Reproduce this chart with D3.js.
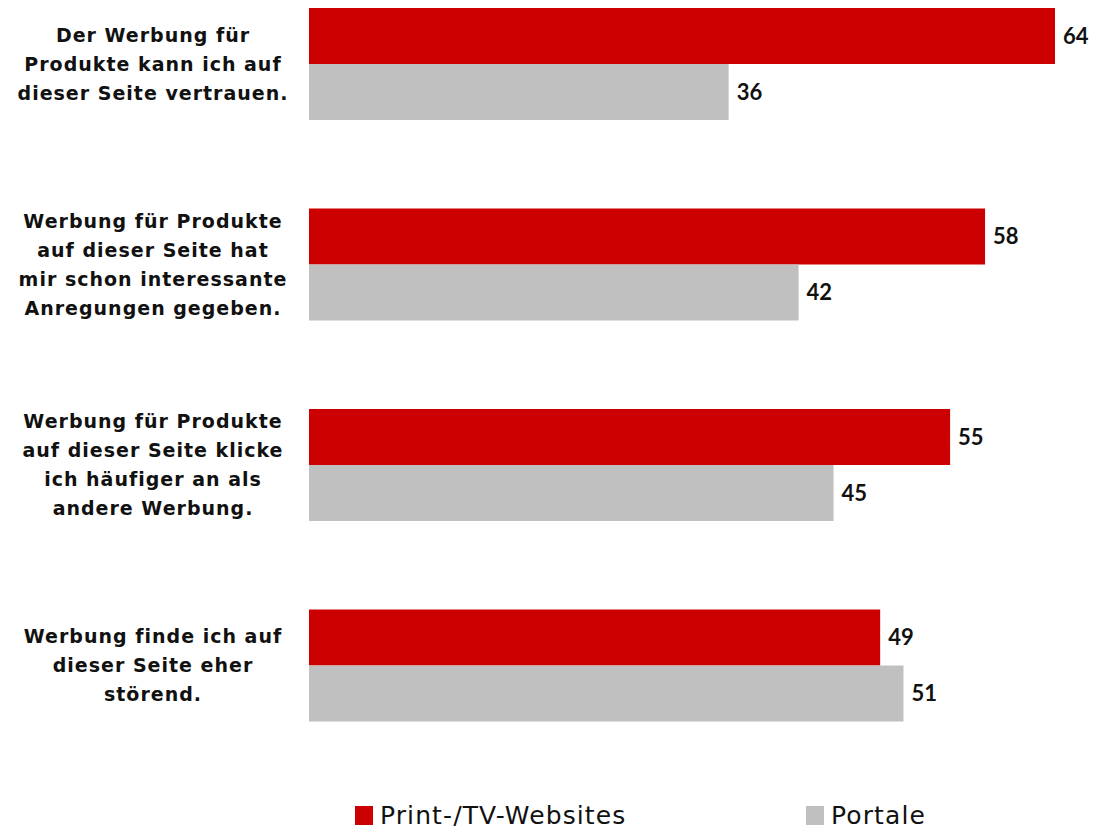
<!DOCTYPE html>
<html>
<head>
<meta charset="utf-8">
<script src="https://cdn.jsdelivr.net/npm/d3@7"></script>
<style>
  html, body { margin: 0; padding: 0; background: #fff; overflow: hidden; }
  svg { display: block; }
</style>
</head>
<body>
<svg id="chart" width="1095" height="826"></svg>
<script>
// Statements (each split into display lines)
const categories = [
  ["Der Werbung für", "Produkte kann ich auf", "dieser Seite vertrauen."],
  ["Werbung für Produkte", "auf dieser Seite hat", "mir schon interessante", "Anregungen gegeben."],
  ["Werbung für Produkte", "auf dieser Seite klicke", "ich häufiger an als", "andere Werbung."],
  ["Werbung finde ich auf", "dieser Seite eher", "störend."]
];
const seriesNames = ["Print-/TV-Websites", "Portale"];
const printTv = [64, 58, 55, 49];
const portale = [36, 42, 45, 51];
const colors = ["#CC0000", "#C0C0C0"];

const svg = d3.select("#chart");
const labelFont = "'DejaVu Sans', Verdana, sans-serif";
const valueFont = "Lato, 'Open Sans', sans-serif";

const keys = categories.map((c, i) => "c" + i);
const rows = keys.map((k, i) => ({ key: k, lines: categories[i], values: [printTv[i], portale[i]] }));

const x = d3.scaleLinear().domain([0, 64]).range([309, 1055]);
const y = d3.scaleBand().domain(keys).range([8, 721.5]).paddingInner(0.4414).paddingOuter(0);
const ySub = d3.scaleBand().domain(seriesNames).range([0, y.bandwidth()]);

const groups = svg.selectAll("g.group").data(rows).join("g")
  .attr("class", "group")
  .attr("transform", d => `translate(0,${y(d.key)})`);

groups.selectAll("rect").data(d => d.values.map((v, j) => ({ v, s: seriesNames[j], j }))).join("rect")
  .attr("x", x(0))
  .attr("y", d => ySub(d.s))
  .attr("width", d => x(d.v) - x(0))
  .attr("height", ySub.bandwidth())
  .attr("fill", d => colors[d.j]);

groups.selectAll("text.value").data(d => d.values.map((v, j) => ({ v, s: seriesNames[j] }))).join("text")
  .attr("class", "value")
  .attr("x", d => x(d.v) + 8)
  .attr("y", d => ySub(d.s) + ySub.bandwidth() / 2)
  .attr("dy", "0.36em")
  .attr("font-family", valueFont)
  .attr("font-weight", "bold")
  .attr("font-size", 22)
  .attr("fill", "#111")
  .text(d => d.v);

// Category labels, centred beside each pair of bars
const lineH = 29;
groups.append("text")
  .attr("class", "cat")
  .attr("text-anchor", "middle")
  .attr("font-family", labelFont)
  .attr("font-weight", "bold")
  .attr("font-size", 19)
  .attr("letter-spacing", 1)
  .attr("fill", "#111")
  .each(function(d) {
    const t = d3.select(this);
    const n = d.lines.length;
    const mid = y.bandwidth() / 2;
    d.lines.forEach((ln, i) => {
      t.append("tspan")
        .attr("x", 153)
        .attr("y", mid + (i - (n - 1) / 2) * lineH)
        .attr("dy", "0.36em")
        .text(ln);
    });
  });

// Legend
const legend = [
  { name: seriesNames[0], color: colors[0], x: 355 },
  { name: seriesNames[1], color: colors[1], x: 806 }
];
const lg = svg.selectAll("g.legend").data(legend).join("g")
  .attr("class", "legend")
  .attr("transform", d => `translate(${d.x},806)`);
lg.append("rect").attr("width", 18).attr("height", 19).attr("fill", d => d.color);
lg.append("text")
  .attr("x", 25)
  .attr("y", 18)
  .attr("font-family", labelFont)
  .attr("font-size", 25)
  .attr("letter-spacing", 1.1)
  .attr("fill", "#111")
  .text(d => d.name);
</script>
</body>
</html>
